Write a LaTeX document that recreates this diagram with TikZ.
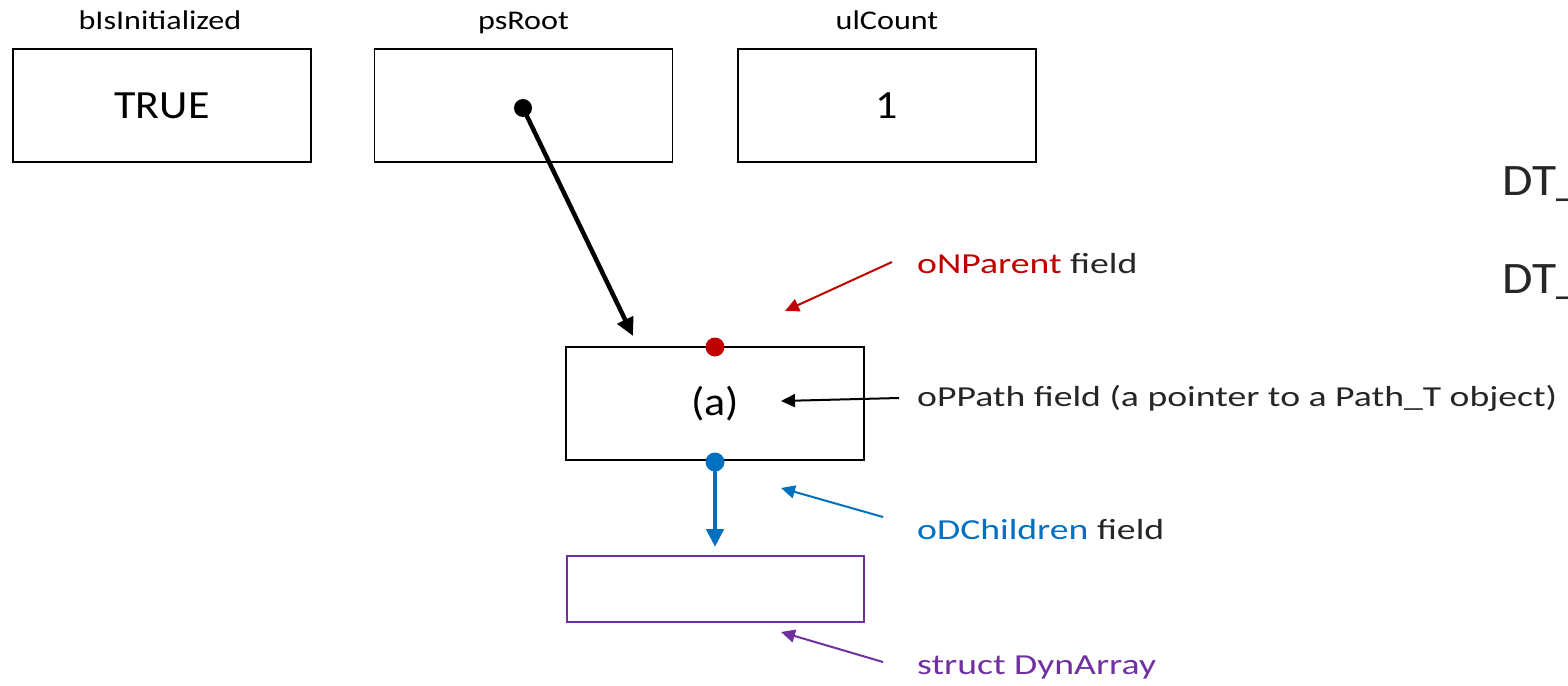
\documentclass[tikz,border=0pt]{standalone}
\usepackage{fontspec}
\setmainfont{Carlito}
\newfontfamily\sidefont[FakeStretch=1.3]{Carlito}
\newfontfamily\topfont[FakeStretch=1.19]{Carlito}
\newfontfamily\boxfont[FakeStretch=1.1]{Carlito}
\usetikzlibrary{arrows.meta}
\definecolor{cred}{HTML}{C00000}
\definecolor{cblue}{HTML}{0070C0}
\definecolor{cpurple}{HTML}{7030A0}
\definecolor{ctext}{HTML}{262626}
\tikzset{
  valbox/.style={draw=black, line width=1.6pt, minimum width=298pt, minimum height=113pt, inner sep=0pt, font=\boxfont\fontsize{40}{48}\selectfont},
  toplabel/.style={anchor=base, inner sep=0pt, font=\topfont\fontsize{27}{32}\selectfont, text=black},
  sidelabel/.style={anchor=base west, inner sep=0pt, font=\sidefont\fontsize{29}{35}\selectfont, text=ctext},
  dtlabel/.style={anchor=base west, inner sep=0pt, font=\boxfont\fontsize{45}{54}\selectfont, text=ctext},
  dot/.style={circle, fill=#1, inner sep=0pt, minimum size=19pt},
  thinarrow/.style={line width=2pt, -{Triangle[length=14pt, width=13pt]}},
}
\begin{document}
\begin{tikzpicture}[x=1pt, y=-1pt]
\useasboundingbox (0,0) rectangle (1568,685);
\clip (0,0) rectangle (1568,685);

% top boxes
\node[valbox] (init) at (162,105.5) {TRUE};
\node[valbox] (root) at (523.5,105.5) {};
\node[valbox] (count) at (887,105.5) {1};
\node[toplabel] (linit) at (160,30) {bIsInitialized};
\node[toplabel] (lroot) at (523.5,30) {psRoot};
\node[toplabel] (lcount) at (887,30) {ulCount};

% node (a)
\node[valbox, minimum height=113pt] (a) at (715,403.5) {(a)};
% DynArray box
\node[draw=cpurple, line width=1.6pt, minimum width=297pt, minimum height=66pt, inner sep=0pt] (dyn) at (715.5,589) {};

% dots
\node[dot=black, minimum size=18pt] (rootdot) at (523,108) {};
\node[dot=cred] (pdot) at (715,347) {};
\node[dot=cblue] (cdot) at (715,462) {};

% pointer arrows
\coordinate (rootend) at (633,336);
\draw[line width=4.5pt, -{Triangle[length=18pt, width=17pt]}] (rootdot.center) -- (rootend);
\coordinate (childend) at (715,547);
\draw[cblue, line width=4.5pt, -{Triangle[length=18pt, width=17pt]}] (cdot.center) -- (childend);

% side labels
\node[sidelabel] (lpar) at (917,273) {\textcolor{cred}{oNParent} field};
\node[sidelabel] (lpath) at (917,406) {oPPath field (a pointer to a Path\_T object)};
\node[sidelabel] (lchild) at (917,539) {\textcolor{cblue}{oDChildren} field};
\node[sidelabel, text=cpurple] (ldyn) at (917,674) {struct DynArray};

% label arrows
\coordinate (parstart) at (892,262);
\coordinate (parend) at (785,311);
\draw[thinarrow, cred] (parstart) -- (parend);
\coordinate (pathstart) at (899,398);
\coordinate (pathend) at (781,401);
\draw[thinarrow, black] (pathstart) -- (pathend);
\coordinate (childstart) at (883,517);
\coordinate (childarr) at (781,488);
\draw[thinarrow, cblue] (childstart) -- (childarr);
\coordinate (dynstart) at (883,662);
\coordinate (dynend) at (781,632);
\draw[thinarrow, cpurple] (dynstart) -- (dynend);

% DT_ texts (cut at the right edge, as in the reference)
\node[dtlabel] (dt1) at (1502,195) {DT\_};
\node[dtlabel] (dt2) at (1502,293) {DT\_};
\end{tikzpicture}
\end{document}
